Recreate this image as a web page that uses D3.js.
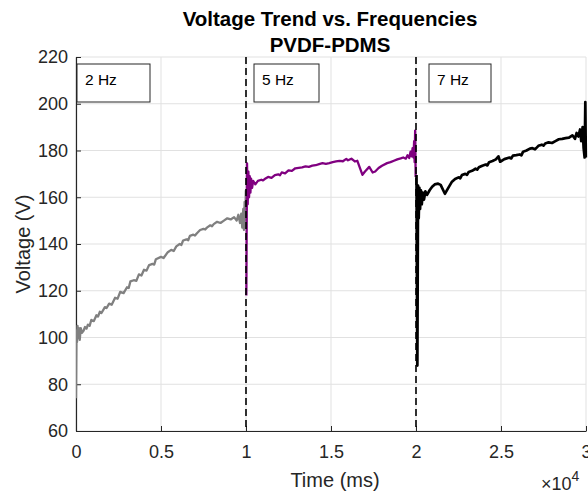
<!DOCTYPE html>
<html>
<head>
<meta charset="utf-8">
<script src="https://cdn.jsdelivr.net/npm/d3@7/dist/d3.min.js"></script>
<style>
  body { margin: 0; background: #fff; }
  svg { display: block; font-family: "Liberation Sans", Arial, Helvetica, sans-serif; }
  .tick text { fill: #262626; font-size: 18px; }
</style>
</head>
<body>
<div id="chart"></div>
<script>
'use strict';

// ── Data: time (ms) and voltage (V) per frequency segment ──────
const gray2Hz = [
  [0, 74], [30, 103], [60, 98], [90, 105], [130, 100], [170, 104], [220, 99], [280, 104],
  [350, 102], [450, 103], [530, 104.5], [620, 103.8], [700, 105.5], [800, 105], [900, 107.5],
  [1050, 107], [1200, 109.5], [1300, 109], [1400, 111], [1500, 110.5], [1700, 113], [1800, 112.6],
  [1950, 114.5], [2100, 114], [2300, 117], [2450, 116.6], [2600, 119.5], [2800, 119], [3000, 121.5],
  [3100, 121.2], [3200, 124], [3400, 124.5], [3550, 124.2], [3700, 127], [3850, 126.5], [4000, 129],
  [4150, 128.6], [4300, 131], [4500, 131.5], [4600, 131.2], [4700, 133.5], [5000, 134.5], [5150, 134],
  [5400, 136.5], [5600, 137.5], [5750, 137], [5900, 139], [6100, 140], [6200, 139.6], [6300, 141.5],
  [6500, 142], [6600, 141.6], [6700, 143.5], [6900, 144], [7000, 143.6], [7100, 144.5], [7300, 146],
  [7500, 146.5], [7600, 146.2], [7700, 147], [7900, 148], [8000, 147.6], [8100, 148.5], [8300, 149.5],
  [8500, 149], [8700, 150], [8900, 151], [9100, 150.5], [9300, 151.5], [9450, 150], [9550, 152.5],
  [9650, 149], [9720, 153], [9780, 147], [9840, 155], [9880, 146], [9920, 158], [9960, 150], [9990, 163]
];

const purple5Hz = [
  [10020, 118], [10060, 174.5], [10100, 157], [10140, 171], [10180, 160], [10220, 169], [10260, 162],
  [10300, 168], [10360, 164], [10420, 167], [10550, 165.5], [10700, 167], [10900, 167.5], [11000, 167.2],
  [11100, 167.8], [11300, 168.7], [11500, 168.3], [11700, 169.5], [11900, 169.8], [12000, 169.4],
  [12100, 170.6], [12300, 170.2], [12500, 171.5], [12700, 171.3], [12900, 172.4], [13100, 172.6],
  [13300, 172.8], [13500, 173.2], [13700, 173], [13900, 173.5], [14100, 173.7], [14300, 174.2],
  [14500, 174.6], [14700, 174.3], [14900, 174.6], [15100, 175], [15300, 175.3], [15500, 175.6],
  [15700, 175.4], [15900, 176.4], [16000, 175.8], [16200, 176.5], [16400, 175.3], [16550, 175.6],
  [16850, 169.6], [17000, 171], [17250, 173], [17450, 170.6], [17600, 171], [17800, 172.5],
  [18000, 173.5], [18300, 174.6], [18500, 175], [18700, 175.6], [18900, 176.2], [19100, 176.6],
  [19250, 177], [19400, 176.5], [19500, 178], [19600, 176.8], [19680, 179.5], [19740, 177.5],
  [19800, 181], [19850, 177], [19890, 184], [19920, 175], [19950, 188.5], [19980, 168.7]
];

const black7Hz = [
  [20030, 169.5], [20080, 88], [20120, 165], [20160, 151], [20200, 164], [20240, 155], [20290, 163],
  [20340, 157], [20400, 162], [20470, 159], [20550, 162.5], [20650, 161], [20800, 163], [20950, 164.5],
  [21100, 165.5], [21300, 165.8], [21450, 165.3], [21700, 161.5], [21900, 164], [22100, 166.5],
  [22300, 167.8], [22500, 168.5], [22600, 168.1], [22700, 169.5], [22900, 170], [23000, 169.6],
  [23100, 170.8], [23300, 171.3], [23500, 172.2], [23600, 171.8], [23700, 172.8], [23900, 173.5],
  [24100, 174], [24200, 173.6], [24300, 175], [24500, 175.5], [24700, 176.2], [24850, 177.5],
  [24950, 175.2], [25200, 176.3], [25500, 177], [25600, 176.6], [25700, 177.8], [25900, 178],
  [26100, 178.3], [26200, 177.9], [26300, 179.5], [26500, 180], [26700, 180.8], [26850, 181],
  [27000, 180.5], [27200, 182], [27400, 182.5], [27500, 182.1], [27600, 183], [27800, 183.5],
  [28000, 183.2], [28200, 184], [28400, 184.8], [28600, 185], [28800, 185.3], [29000, 185.5],
  [29200, 186.5], [29350, 185], [29450, 187.5], [29550, 186], [29650, 189], [29720, 184],
  [29800, 190], [29860, 181], [29920, 177], [29960, 200.7], [29990, 177]
];

const freqLabels = ['2 Hz', '5 Hz', '7 Hz'];
const freqStarts = [0, 10000, 20000];
const switchTimes = [10000, 20000];
const xTicks = [0, 5000, 10000, 15000, 20000, 25000, 30000];
const yTicks = [60, 80, 100, 120, 140, 160, 180, 200, 220];

// ── Layout ─────────────────────────────────────────────────────
const totalW = 588, totalH = 495;
const margin = { top: 57, right: 2, bottom: 64, left: 76 };
const W = totalW - margin.left - margin.right;
const H = totalH - margin.top - margin.bottom;
const AX = '#262626';

const svg = d3.select('#chart').append('svg')
  .attr('width', totalW).attr('height', totalH);

const chart = svg.append('g')
  .attr('transform', `translate(${margin.left},${margin.top})`);

const x = d3.scaleLinear().domain([0, 30000]).range([0, W]);
const y = d3.scaleLinear().domain([60, 220]).range([H, 0]);

// ── Grid ───────────────────────────────────────────────────────
chart.append('g').selectAll('line.vgrid')
  .data(xTicks).join('line')
  .attr('x1', d => x(d)).attr('x2', d => x(d))
  .attr('y1', 0).attr('y2', H)
  .attr('stroke', '#e1e1e1').attr('stroke-width', 1);

chart.append('g').selectAll('line.hgrid')
  .data(yTicks).join('line')
  .attr('x1', 0).attr('x2', W)
  .attr('y1', d => y(d)).attr('y2', d => y(d))
  .attr('stroke', '#e1e1e1').attr('stroke-width', 1);

// ── Axes (MATLAB style: inward ticks) ─────────────────────────
const xAxis = chart.append('g')
  .attr('transform', `translate(0,${H})`)
  .call(d3.axisBottom(x).tickValues(xTicks).tickSizeInner(-5).tickSizeOuter(0)
    .tickPadding(14).tickFormat(d => d3.format('')(d / 10000)));
const yAxis = chart.append('g')
  .call(d3.axisLeft(y).tickValues(yTicks).tickSizeInner(-5).tickSizeOuter(0).tickPadding(8));
[xAxis, yAxis].forEach(a => {
  a.select('.domain').attr('stroke', AX).attr('stroke-width', 1.2);
  a.selectAll('.tick line').attr('stroke', AX);
  a.attr('font-family', null).attr('font-size', null);
});

// ── Series ─────────────────────────────────────────────────────
chart.append('clipPath').attr('id', 'plot-clip')
  .append('rect').attr('x', 0).attr('y', -2).attr('width', W + 2).attr('height', H + 2);

const line = d3.line().x(d => x(d[0])).y(d => y(d[1]));
const series = [
  { data: gray2Hz, color: '#808080', width: 2.3 },
  { data: purple5Hz, color: '#800080', width: 2.3 },
  { data: black7Hz, color: '#000000', width: 2.7 }
];
chart.append('g').attr('clip-path', 'url(#plot-clip)')
  .selectAll('path.series')
  .data(series).join('path')
  .attr('fill', 'none')
  .attr('stroke', d => d.color)
  .attr('stroke-width', d => d.width)
  .attr('stroke-linejoin', 'round')
  .attr('d', d => line(d.data));

// Dashed frequency switch markers
chart.selectAll('line.switch')
  .data(switchTimes).join('line')
  .attr('x1', d => x(d)).attr('x2', d => x(d))
  .attr('y1', 0).attr('y2', H)
  .attr('stroke', '#000').attr('stroke-width', 1.6)
  .attr('stroke-dasharray', '7,4');

// ── Frequency annotation boxes ────────────────────────────────
const boxOffset = [1, 8, 13];
const boxWidth = [73, 65, 62];
const boxes = chart.selectAll('g.freq-box')
  .data(freqLabels).join('g')
  .attr('transform', (d, i) => `translate(${x(freqStarts[i]) + boxOffset[i]},7)`);
boxes.append('rect')
  .attr('width', (d, i) => boxWidth[i]).attr('height', 38)
  .attr('fill', '#fff').attr('stroke', '#262626').attr('stroke-width', 1);
boxes.append('text')
  .attr('x', 8).attr('y', 21)
  .attr('font-size', 15.5).attr('fill', '#000')
  .text(d => d);

// ── Labels ─────────────────────────────────────────────────────
svg.append('text')
  .attr('x', 330).attr('y', 26)
  .attr('text-anchor', 'middle').attr('font-weight', 'bold')
  .attr('font-size', 20.5).attr('fill', '#000')
  .text('Voltage Trend vs. Frequencies');
svg.append('text')
  .attr('x', 330).attr('y', 52)
  .attr('text-anchor', 'middle').attr('font-weight', 'bold')
  .attr('font-size', 20.5).attr('fill', '#000')
  .text('PVDF-PDMS');

svg.append('text')
  .attr('x', 335).attr('y', 487)
  .attr('text-anchor', 'middle').attr('font-size', 20).attr('fill', AX)
  .text('Time (ms)');

svg.append('text')
  .attr('transform', `translate(30,${margin.top + H / 2}) rotate(-90)`)
  .attr('text-anchor', 'middle').attr('font-size', 20).attr('fill', AX)
  .text('Voltage (V)');

// ×10^4 exponent label
const expLabel = svg.append('text')
  .attr('x', 541).attr('y', 490).attr('font-size', 18).attr('fill', AX);
expLabel.append('tspan').text('×10');
expLabel.append('tspan').attr('dy', -9).attr('font-size', 14).text('4');
</script>
</body>
</html>
